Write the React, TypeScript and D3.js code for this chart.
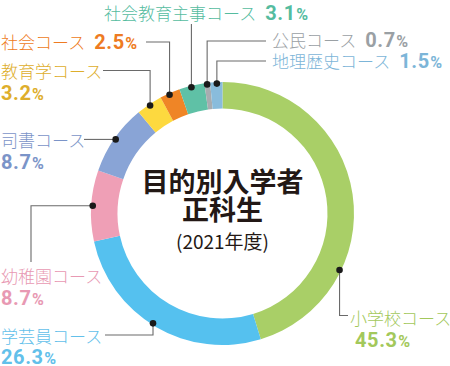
import React from "react";
import * as d3 from "d3";

// 目的別入学者 正科生 (2021年度)
const courses = [
  "小学校コース",
  "学芸員コース",
  "幼稚園コース",
  "司書コース",
  "教育学コース",
  "社会コース",
  "社会教育主事コース",
  "公民コース",
  "地理歴史コース",
];
const shares = [45.3, 26.3, 8.7, 8.7, 3.2, 2.5, 3.1, 0.7, 1.5];
const sliceColors = [
  "#a9cf67",
  "#55c1ef",
  "#ef9fb6",
  "#89a4d6",
  "#fdd93f",
  "#ef8526",
  "#5fc1a6",
  "#a7acb0",
  "#89bcdc",
];
const textColors = [
  "#a3c85b",
  "#62c0ea",
  "#e899b3",
  "#7b94c8",
  "#deae2c",
  "#ee7b22",
  "#55bc9f",
  "#9aa0a4",
  "#7cb5d8",
];

// label layout: where the dot sits inside its slice, the elbow path, and text placement
type Leg = ["v" | "h", number];
const labelLayout: {
  dotFrac: number;
  legs: Leg[];
  x: number;
  y: number;
  inline: boolean;
}[] = [
  { dotFrac: 0.71, legs: [["v", 315.5], ["h", 348]], x: 350, y: 325, inline: false },
  { dotFrac: 0.52, legs: [["v", 335], ["h", 105]], x: 1, y: 342.5, inline: false },
  { dotFrac: 0.5, legs: [["h", 31], ["v", 262]], x: 1, y: 283, inline: false },
  { dotFrac: 0.5, legs: [["h", 84]], x: 1, y: 147, inline: false },
  { dotFrac: 0.5, legs: [["v", 70.5], ["h", 103]], x: 1, y: 78, inline: false },
  { dotFrac: 0.45, legs: [["v", 42], ["h", 146]], x: 1, y: 48.5, inline: true },
  { dotFrac: 0.47, legs: [["v", 24]], x: 104, y: 19.5, inline: true },
  { dotFrac: 0.45, legs: [["v", 41], ["h", 266]], x: 272, y: 47, inline: true },
  { dotFrac: 0.54, legs: [["v", 61], ["h", 266]], x: 272, y: 67.5, inline: true },
];

const width = 450;
const height = 366;
const cx = 222.5;
const cy = 213.5;
const outerR = 131.5;
const innerR = 105;

const jpFont = "'Noto Sans CJK JP', 'Noto Sans', sans-serif";
const numFont = "Roboto, 'Noto Sans', sans-serif";

const Pct = ({ v }: { v: number }) => (
  <>
    <tspan fontSize={20} letterSpacing={0.6}>{v.toFixed(1)}</tspan>
    <tspan fontSize={16} dx={0.5}>%</tspan>
  </>
);

const App = () => {
  const pie = d3
    .pie<number>()
    .sort(null)
    .value((d) => d)
    .startAngle(0)
    .endAngle(2 * Math.PI);
  const arcs = pie(shares);
  const arc = d3.arc<d3.PieArcDatum<number>>().innerRadius(innerR).outerRadius(outerR);

  return (
    <svg width={width} height={height} style={{ display: "block" }}>
      <style>{`body{margin:0}`}</style>
      <g transform={`translate(${cx},${cy})`}>
        {arcs.map((a, i) => (
          <path key={i} d={arc(a) ?? ""} fill={sliceColors[i]} />
        ))}
      </g>

      {arcs.map((a, i) => {
        const lay = labelLayout[i];
        const ang = a.startAngle + (a.endAngle - a.startAngle) * lay.dotFrac;
        const r = outerR - 1.5;
        const dx = cx + r * Math.sin(ang);
        const dy = cy - r * Math.cos(ang);
        let px = dx;
        let py = dy;
        let d = `M${px},${py}`;
        lay.legs.forEach(([dir, v]) => {
          if (dir === "v") py = v;
          else px = v;
          d += `L${px},${py}`;
        });
        return (
          <g key={i}>
            <path d={d} fill="none" stroke="#6a6a6a" strokeWidth={1.1} />
            <circle cx={dx} cy={dy} r={3.3} fill="#1a1a1a" />
            {lay.inline ? (
              <text x={lay.x} y={lay.y} fill={textColors[i]}>
                <tspan fontFamily={jpFont} fontSize={17} fontWeight={300}>
                  {courses[i]}
                </tspan>
                <tspan dx={9} fontFamily={numFont} fontWeight={700}>
                  <Pct v={shares[i]} />
                </tspan>
              </text>
            ) : (
              <>
                <text
                  x={lay.x}
                  y={lay.y}
                  fill={textColors[i]}
                  fontFamily={jpFont}
                  fontSize={17}
                  fontWeight={300}
                >
                  {courses[i]}
                </text>
                <text
                  x={lay.x + (i === 0 ? 5 : 0)}
                  y={lay.y + 21.5}
                  fill={textColors[i]}
                  fontFamily={numFont}
                  fontWeight={700}
                >
                  <Pct v={shares[i]} />
                </text>
              </>
            )}
          </g>
        );
      })}

      <g fill="#231815" textAnchor="middle" fontFamily={jpFont}>
        <text x={cx} y={192} fontSize={27} fontWeight={700}>
          目的別入学者
        </text>
        <text x={cx} y={220} fontSize={27} fontWeight={700}>
          正科生
        </text>
        <text x={cx} y={249} fontSize={19} fontWeight={400}>
          (2021年度)
        </text>
      </g>
    </svg>
  );
};

export default App;
